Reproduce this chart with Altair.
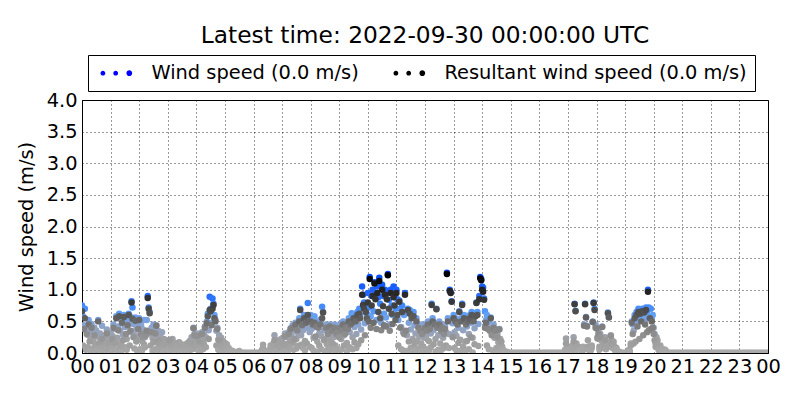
import altair as alt
import pandas as pd

TITLE = "Latest time: 2022-09-30 00:00:00 UTC"
SERIES = ["Wind speed (0.0 m/s)", "Resultant wind speed (0.0 m/s)"]
SERIES_COLORS = ["#0000ff", "#000000"]
HOUR_LABELS = ["00", "01", "02", "03", "04", "05", "06", "07", "08", "09", "10", "11",
               "12", "13", "14", "15", "16", "17", "18", "19", "20", "21", "22", "23", "00"]
Y_TICKS = [0.0, 0.5, 1.0, 1.5, 2.0, 2.5, 3.0, 3.5, 4.0]
STEP_MIN = 2  # one sample every 2 minutes, 30 per hour

# wind speed, hundredths of m/s, one row per hour
WS = [
    [75, 58, 44, 70, 36, 41, 29, 52, 38, 22, 46, 33, 18, 40, 27, 35, 14, 52, 24, 31, 12, 43, 20, 9, 28, 16, 37, 11, 21, 25],
    [32, 14, 27, 45, 19, 38, 58, 24, 42, 62, 35, 16, 52, 29, 60, 41, 55, 22, 48, 62, 33, 57, 82, 72, 46, 28, 56, 37, 23, 45],
    [55, 28, 44, 19, 37, 52, 25, 33, 52, 90, 72, 65, 31, 40, 24, 45, 17, 38, 44, 29, 35, 13, 26, 20, 33, 9, 22, 15, 18, 8],
    [18, 9, 21, 5, 13, 22, 11, 6, 16, 3, 12, 8, 17, 4, 14, 9, 2, 11, 6, 14, 7, 16, 10, 19, 12, 25, 15, 40, 30, 22],
    [22, 31, 14, 26, 9, 18, 33, 21, 30, 42, 25, 50, 62, 36, 89, 70, 48, 86, 78, 60, 52, 35, 40, 21, 28, 14, 24, 9, 19, 13],
    [16, 10, 14, 5, 8, 3, 2, 4, 0, 0, 2, 0, 0, 0, 0, 3, 0, 0, 0, 0, 0, 0, 0, 0, 0, 0, 0, 0, 0, 0],
    [0, 0, 0, 0, 0, 0, 0, 0, 2, 5, 13, 4, 2, 0, 3, 0, 2, 5, 12, 8, 4, 15, 28, 10, 18, 12, 20, 8, 15, 22],
    [17, 24, 9, 31, 14, 26, 8, 33, 20, 39, 27, 44, 16, 35, 48, 22, 43, 30, 55, 70, 28, 47, 36, 60, 19, 52, 40, 79, 55, 33],
    [60, 38, 55, 24, 58, 42, 50, 18, 45, 31, 52, 27, 73, 65, 36, 22, 45, 14, 38, 29, 45, 20, 40, 33, 25, 45, 12, 38, 41, 26],
    [35, 46, 22, 40, 50, 28, 38, 45, 16, 42, 55, 33, 48, 63, 25, 60, 41, 55, 30, 65, 45, 70, 60, 37, 105, 92, 80, 47, 75, 62],
    [95, 72, 120, 58, 90, 100, 66, 112, 95, 52, 105, 88, 119, 78, 48, 108, 90, 62, 100, 56, 95, 125, 84, 45, 100, 75, 60, 105, 90, 70],
    [100, 85, 52, 83, 70, 41, 75, 33, 60, 95, 65, 28, 70, 48, 68, 37, 60, 22, 65, 44, 31, 55, 19, 45, 26, 40, 15, 45, 35, 24],
    [45, 26, 40, 50, 19, 42, 31, 78, 55, 36, 48, 22, 70, 45, 28, 50, 15, 40, 45, 24, 38, 42, 33, 127, 55, 30, 100, 96, 82, 47],
    [60, 33, 55, 27, 50, 40, 66, 21, 55, 78, 36, 60, 18, 50, 42, 55, 30, 60, 48, 65, 24, 55, 39, 62, 80, 65, 46, 90, 120, 117],
    [105, 103, 86, 66, 52, 60, 41, 50, 40, 56, 32, 35, 45, 24, 38, 25, 30, 17, 38, 22, 18, 10, 5, 3, 0, 0, 2, 0, 0, 0],
    [0, 0, 0, 0, 0, 0, 0, 0, 0, 0, 0, 0, 0, 0, 0, 0, 0, 0, 0, 0, 0, 0, 0, 0, 0, 0, 0, 0, 0, 0],
    [0, 0, 0, 0, 0, 0, 0, 0, 0, 0, 0, 0, 0, 0, 0, 0, 0, 0, 0, 0, 0, 0, 0, 0, 0, 0, 0, 5, 23, 10],
    [5, 8, 2, 10, 3, 12, 25, 78, 67, 15, 5, 10, 3, 8, 2, 5, 10, 45, 78, 57, 43, 20, 10, 5, 8, 12, 50, 80, 70, 45],
    [40, 25, 35, 10, 30, 20, 42, 15, 20, 25, 12, 18, 64, 57, 15, 28, 20, 12, 18, 10, 5, 8, 3, 0, 2, 0, 0, 0, 0, 0],
    [0, 0, 0, 2, 5, 3, 15, 50, 45, 35, 60, 48, 65, 55, 70, 52, 68, 58, 70, 61, 68, 55, 72, 65, 100, 72, 57, 70, 55, 60],
    [40, 30, 16, 25, 20, 10, 8, 12, 5, 3, 6, 2, 5, 3, 0, 0, 0, 0, 0, 0, 0, 0, 0, 0, 0, 0, 0, 0, 0, 0],
    [0, 0, 0, 0, 0, 0, 0, 0, 0, 0, 0, 0, 0, 0, 0, 0, 0, 0, 0, 0, 0, 0, 0, 0, 0, 0, 0, 0, 0, 0],
    [0, 0, 0, 0, 0, 0, 0, 0, 0, 0, 0, 0, 0, 0, 0, 0, 0, 0, 0, 0, 0, 0, 0, 0, 0, 0, 0, 0, 0, 0],
    [0, 0, 0, 0, 0, 0, 0, 0, 0, 0, 0, 0, 0, 0, 0, 0, 0, 0, 0, 0, 0, 0, 0, 0, 0, 0, 0, 0, 0, 0],
]

# resultant wind speed, hundredths of m/s, one row per hour
RS = [
    [66, 12, 38, 55, 5, 30, 9, 45, 18, 3, 40, 7, 2, 28, 11, 6, 4, 50, 15, 8, 3, 22, 6, 2, 10, 5, 31, 1, 7, 14],
    [8, 3, 22, 40, 6, 15, 55, 4, 36, 58, 10, 2, 48, 20, 57, 9, 30, 5, 44, 60, 12, 35, 80, 54, 25, 7, 51, 18, 3, 38],
    [52, 6, 30, 4, 25, 14, 9, 28, 35, 87, 70, 63, 12, 33, 3, 18, 5, 31, 43, 7, 20, 2, 15, 6, 11, 1, 8, 3, 12, 2],
    [6, 2, 20, 1, 5, 10, 3, 2, 8, 0, 4, 2, 6, 1, 9, 3, 0, 5, 2, 7, 1, 4, 3, 9, 5, 14, 6, 39, 28, 10],
    [10, 27, 4, 18, 3, 8, 30, 6, 14, 40, 9, 47, 58, 22, 68, 66, 44, 70, 76, 55, 50, 12, 38, 5, 20, 3, 11, 2, 7, 4],
    [8, 3, 6, 2, 3, 0, 0, 1, 0, 0, 0, 0, 0, 0, 0, 0, 0, 0, 0, 0, 0, 0, 0, 0, 0, 0, 0, 0, 0, 0],
    [0, 0, 0, 0, 0, 0, 0, 0, 0, 2, 8, 1, 0, 0, 1, 0, 0, 2, 6, 3, 2, 8, 20, 4, 10, 5, 12, 3, 8, 10],
    [10, 14, 3, 26, 6, 12, 2, 30, 9, 38, 18, 40, 5, 22, 45, 7, 36, 11, 50, 68, 13, 44, 8, 55, 4, 48, 15, 60, 50, 10],
    [50, 8, 45, 4, 48, 26, 42, 2, 40, 12, 45, 6, 55, 64, 20, 3, 40, 1, 30, 9, 42, 5, 35, 15, 7, 40, 2, 30, 33, 6],
    [25, 40, 5, 35, 45, 12, 30, 40, 3, 38, 50, 9, 45, 48, 6, 55, 17, 50, 8, 60, 14, 62, 55, 20, 92, 76, 70, 28, 65, 55],
    [80, 50, 117, 40, 75, 90, 48, 110, 85, 38, 95, 65, 114, 55, 36, 100, 74, 44, 92, 42, 85, 123, 70, 35, 95, 62, 46, 88, 75, 52],
    [95, 60, 12, 81, 40, 6, 65, 4, 30, 92, 35, 3, 68, 18, 62, 8, 55, 2, 58, 14, 5, 50, 1, 40, 7, 35, 2, 30, 10, 4],
    [40, 6, 35, 45, 3, 38, 9, 76, 50, 14, 45, 2, 69, 40, 5, 45, 1, 35, 40, 7, 30, 38, 12, 125, 50, 8, 98, 95, 81, 25],
    [55, 8, 50, 4, 45, 16, 65, 3, 50, 76, 10, 55, 2, 45, 19, 50, 6, 55, 25, 60, 1, 50, 14, 58, 79, 60, 11, 85, 118, 115],
    [100, 97, 84, 40, 48, 12, 38, 6, 35, 55, 28, 4, 40, 3, 35, 8, 25, 2, 37, 9, 18, 5, 2, 0, 0, 0, 0, 0, 0, 0],
    [0, 0, 0, 0, 0, 0, 0, 0, 0, 0, 0, 0, 0, 0, 0, 0, 0, 0, 0, 0, 0, 0, 0, 0, 0, 0, 0, 0, 0, 0],
    [0, 0, 0, 0, 0, 0, 0, 0, 0, 0, 0, 0, 0, 0, 0, 0, 0, 0, 0, 0, 0, 0, 0, 0, 0, 0, 0, 0, 15, 5],
    [2, 3, 0, 5, 0, 6, 18, 77, 66, 10, 2, 5, 0, 3, 0, 2, 5, 43, 77, 56, 42, 10, 5, 2, 4, 8, 49, 79, 68, 40],
    [39, 23, 30, 5, 25, 10, 41, 8, 12, 20, 6, 10, 63, 56, 10, 27, 15, 8, 12, 5, 3, 5, 0, 0, 0, 0, 0, 0, 0, 0],
    [0, 0, 0, 0, 2, 0, 12, 48, 30, 15, 55, 18, 60, 42, 65, 22, 62, 50, 66, 28, 64, 45, 68, 33, 97, 36, 55, 38, 50, 40],
    [30, 20, 10, 15, 12, 5, 3, 6, 2, 0, 2, 0, 1, 0, 0, 0, 0, 0, 0, 0, 0, 0, 0, 0, 0, 0, 0, 0, 0, 0],
    [0, 0, 0, 0, 0, 0, 0, 0, 0, 0, 0, 0, 0, 0, 0, 0, 0, 0, 0, 0, 0, 0, 0, 0, 0, 0, 0, 0, 0, 0],
    [0, 0, 0, 0, 0, 0, 0, 0, 0, 0, 0, 0, 0, 0, 0, 0, 0, 0, 0, 0, 0, 0, 0, 0, 0, 0, 0, 0, 0, 0],
    [0, 0, 0, 0, 0, 0, 0, 0, 0, 0, 0, 0, 0, 0, 0, 0, 0, 0, 0, 0, 0, 0, 0, 0, 0, 0, 0, 0, 0, 0],
]


def to_frame(rows):
    recs = []
    for h, row in enumerate(rows):
        for i, v in enumerate(row):
            recs.append({"t": h + i * STEP_MIN / 60.0, "v": v / 100.0})
    return pd.DataFrame(recs)


ws_df = to_frame(WS)
rs_df = to_frame(RS)
legend_df = pd.DataFrame({"series": SERIES})

FONT = "DejaVu Sans"
label_expr = "[" + ",".join("'%s'" % s for s in HOUR_LABELS) + "][datum.value]"

x_enc = alt.X("t:Q", scale=alt.Scale(domain=[0, 24], nice=False, zero=False),
              axis=alt.Axis(values=list(range(25)), labelExpr=label_expr, title=None,
                            ticks=False, labelPadding=4, labelOverlap=False,
                            labelFlush=False, grid=True))
y_enc = alt.Y("v:Q", scale=alt.Scale(domain=[0, 4], nice=False),
              axis=alt.Axis(values=Y_TICKS, format=".1f", title="Wind speed (m/s)",
                            ticks=False, labelPadding=5, titlePadding=10, grid=True))

ws_layer = alt.Chart(ws_df).mark_circle(size=42, opacity=1, clip=True).encode(
    x=x_enc, y=y_enc,
    color=alt.Color("v:Q", legend=None, scale=alt.Scale(
        domain=[0, 0.2, 0.4, 0.6, 0.9, 1.3],
        range=["#aaaaaa", "#a0a0a0", "#8fa3c8", "#62a0f5", "#2a6cff", "#0040ff"])),
)

rs_layer = alt.Chart(rs_df).mark_circle(size=42, opacity=1, clip=True).encode(
    x=x_enc, y=y_enc,
    color=alt.Color("v:Q", legend=None, scale=alt.Scale(
        domain=[0, 0.2, 0.4, 0.55, 0.8, 1.2],
        range=["#aaaaaa", "#9a9a9a", "#818181", "#5e5e5e", "#3a3a3a", "#000000"])),
)

DOTS = ("M-1.9,0A0.3,0.3,0,1,0,-1.3,0A0.3,0.3,0,1,0,-1.9,0Z "
        "M-0.3,0A0.3,0.3,0,1,0,0.3,0A0.3,0.3,0,1,0,-0.3,0Z "
        "M1.34,0A0.36,0.36,0,1,0,2.06,0A0.36,0.36,0,1,0,1.34,0Z")

legend_layer = alt.Chart(legend_df).mark_point(filled=True, opacity=0, shape=DOTS).encode(
    color=alt.Color("series:N", scale=alt.Scale(domain=SERIES, range=SERIES_COLORS),
                    legend=alt.Legend(
                        orient="none", legendX=6, legendY=-45, direction="horizontal",
                        columns=2, title=None, symbolType=DOTS, symbolSize=256,
                        symbolStrokeWidth=0, symbolOpacity=1, symbolOffset=10,
                        labelFontSize=19.4, labelFont=FONT, labelColor="black",
                        labelOffset=26, labelLimit=0, columnPadding=30,
                        strokeColor="black", fillColor="white", padding=8)),
)

chart = alt.layer(ws_layer, rs_layer, legend_layer).resolve_scale(
    color="independent"
).properties(
    width=686, height=253,
    autosize=alt.AutoSizeParams(type="none"),
    padding={"left": 74, "top": 92, "right": 24, "bottom": 39},
    title=alt.TitleParams(TITLE, font=FONT, fontSize=23.3, fontWeight="normal",
                          color="black", anchor="middle", offset=6),
).configure_view(
    stroke="black", strokeWidth=1
).configure_axis(
    labelFont=FONT, titleFont=FONT, labelFontSize=19.4, titleFontSize=19.4,
    titleFontWeight="normal", labelColor="black", titleColor="black",
    domainColor="black", domainWidth=1, gridColor="black", gridDash=[1, 3],
    gridWidth=0.8, gridOpacity=1,
)

chart.save("out.html", embed_options={"renderer": "svg", "actions": False})
